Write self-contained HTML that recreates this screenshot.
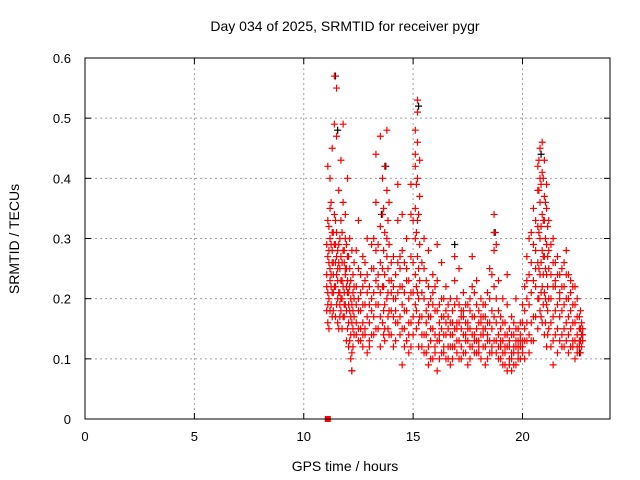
<!DOCTYPE html>
<html><head><meta charset="utf-8"><style>
body{margin:0;background:#fff}
svg{display:block;font-family:"Liberation Sans",sans-serif}
</style></head><body>
<svg id="chart" width="640" height="480" viewBox="0 0 640 480">
<rect width="640" height="480" fill="#fff"/>
<text x="345" y="31" font-size="14" text-anchor="middle">Day 034 of 2025, SRMTID for receiver pygr</text>
<text transform="translate(19,239) rotate(-90)" font-size="14" text-anchor="middle">SRMTID / TECUs</text>
<text x="345" y="471" font-size="14" text-anchor="middle">GPS time / hours</text>
<g id="grid"></g><g id="marks"></g><g id="axes"></g>
</svg>
<script>
const xTicks=[0,5,10,15,20];
const yTicks=[0,0.1,0.2,0.3,0.4,0.5,0.6];
const yTickLabels=["0","0.1","0.2","0.3","0.4","0.5","0.6"];
const hours=[11.1,11.2,11.3,11.4,11.5,11.6,11.7,11.8,11.9,12.0,12.1,12.2,12.3,12.5,12.7,12.9,13.1,13.3,13.5,13.6,13.7,13.8,13.9,14.1,14.3,14.5,14.7,14.9,15.1,15.2,15.3,15.5,15.7,15.9,16.1,16.3,16.5,16.7,16.9,17.1,17.3,17.5,17.7,17.9,18.1,18.3,18.5,18.7,18.9,19.1,19.3,19.5,19.7,19.9,20.1,20.3,20.5,20.7,20.8,20.9,21.0,21.1,21.2,21.4,21.6,21.8,22.0,22.2,22.4,22.6,22.7];
const values=[[.16,.21,.27,.33,.42,.19],[.23,.30,.40,.35,.18,.25],[.28,.45,.31,.21,.17,.26],[.57,.49,.22,.29,.34],[.55,.47,.24,.19,.31,.27],[.26,.38,.21,.15,.29],[.43,.33,.23,.18,.27,.20],[.49,.36,.28,.22,.17],[.34,.25,.19,.24,.30],[.40,.27,.21,.15,.23],[.30,.18,.13,.25,.22],[.08,.19,.11,.28,.16],[.26,.22,.14,.17,.20],[.33,.20,.13,.25,.18,.15],[.22,.16,.12,.19,.27,.14],[.30,.21,.17,.11,.24],[.25,.18,.14,.29,.20],[.44,.36,.28,.23,.19,.15],[.47,.32,.26,.21,.17,.12],[.40,.34,.25,.22,.16],[.42,.31,.24,.19,.15,.13],[.48,.38,.30,.27,.20],[.36,.29,.23,.18,.14],[.27,.22,.17,.12,.20],[.39,.33,.26,.21,.16],[.34,.28,.22,.15,.09,.19],[.30,.25,.18,.13,.23],[.39,.34,.27,.21,.16,.12],[.48,.44,.42,.35,.30,.24,.19],[.53,.51,.46,.40,.33,.27,.21],[.43,.37,.29,.23,.17],[.30,.25,.20,.14,.11],[.28,.22,.17,.12,.09,.19],[.24,.19,.15,.10,.21],[.29,.23,.18,.13,.08],[.26,.20,.15,.11,.17],[.22,.18,.14,.10,.16],[.20,.16,.12,.09,.14],[.27,.23,.19,.15,.12],[.25,.19,.16,.13,.10],[.21,.17,.14,.11,.18],[.19,.16,.13,.09,.15],[.27,.22,.17,.12,.14],[.23,.19,.15,.11,.13],[.20,.17,.14,.10,.16],[.19,.15,.12,.09,.17],[.25,.20,.16,.13,.11],[.34,.31,.28,.22,.17,.13],[.23,.18,.14,.10,.12],[.20,.16,.13,.09,.11],[.24,.19,.14,.08,.12],[.17,.14,.11,.08,.10],[.20,.15,.12,.09,.13],[.16,.13,.10,.12,.14],[.22,.18,.13,.10,.15],[.30,.24,.19,.14,.11],[.35,.29,.23,.17,.13],[.42,.38,.32,.26,.20,.15],[.45,.40,.36,.30,.24,.18],[.46,.41,.34,.28,.22,.16],[.43,.37,.33,.27,.21,.14],[.39,.35,.29,.24,.19,.12],[.33,.28,.25,.20,.15],[.30,.26,.22,.17,.13,.09],[.27,.24,.19,.15,.11],[.25,.22,.18,.14,.12],[.28,.24,.20,.16,.13],[.23,.21,.18,.15,.12],[.22,.19,.16,.13,.10],[.17,.15,.13,.12],[.16,.14,.12]];
const hours2=[11.05,11.15,11.25,11.35,11.45,11.55,11.65,11.75,11.85,11.95,12.05,12.15,12.25,12.4,12.6,12.8,13.0,13.2,13.4,13.65,13.85,14.0,14.2,14.4,14.6,14.8,15.0,15.15,15.25,15.4,15.6,15.8,16.0,16.2,16.4,16.6,16.8,17.0,17.2,17.4,17.6,17.8,18.0,18.2,18.4,18.6,18.8,19.0,19.2,19.4,19.6,19.8,20.0,20.2,20.4,20.6,20.75,20.85,20.95,21.05,21.15,21.3,21.5,21.7,21.9,22.1,22.3,22.5,22.65,22.75];
const values2=[[.18,.24,.29,.22],[.20,.26,.32,.15,.28],[.24,.19,.36,.29,.22],[.26,.31,.18,.24,.21],[.29,.22,.26,.17,.33],[.20,.28,.23,.16,.25],[.30,.21,.25,.19,.17],[.26,.23,.31,.20,.15],[.21,.28,.17,.26,.19],[.25,.18,.22,.29,.13],[.21,.16,.27,.12,.19],[.14,.23,.17,.20,.10],[.18,.24,.15,.21,.12],[.16,.22,.19,.14,.28],[.18,.24,.13,.21,.15],[.19,.15,.23,.14,.26],[.22,.16,.19,.13,.12],[.21,.17,.25,.14,.30],[.24,.19,.15,.29,.22],[.28,.22,.18,.35,.14],[.25,.21,.17,.33,.15],[.23,.18,.14,.26,.21],[.20,.16,.24,.13,.18],[.22,.17,.14,.27,.25],[.18,.15,.21,.12,.26],[.20,.16,.23,.14,.11],[.26,.21,.17,.33,.14],[.31,.22,.18,.39,.15],[.25,.20,.16,.12,.34],[.21,.17,.14,.26,.12],[.18,.14,.11,.23,.16],[.17,.13,.10,.20,.15],[.18,.14,.11,.22,.12],[.16,.13,.10,.19,.14],[.17,.14,.11,.20,.12],[.15,.12,.17,.19,.10],[.18,.14,.12,.16,.10],[.16,.13,.11,.20,.15],[.15,.12,.18,.10,.17],[.16,.13,.11,.19,.14],[.18,.15,.12,.20,.10],[.17,.14,.11,.21,.13],[.16,.13,.11,.18,.12],[.17,.14,.12,.19,.15],[.16,.13,.10,.21,.14],[.18,.15,.12,.24,.11],[.16,.13,.11,.20,.29],[.15,.12,.10,.17,.13],[.14,.11,.09,.16,.12],[.15,.12,.10,.13,.09],[.14,.11,.09,.12,.16],[.13,.10,.12,.15,.11],[.16,.13,.11,.19,.12],[.20,.16,.13,.27,.23],[.26,.21,.16,.13,.31],[.33,.28,.22,.17,.25],[.38,.31,.25,.20,.43],[.39,.32,.26,.21,.17],[.40,.33,.27,.19,.24],[.36,.30,.25,.20,.16],[.32,.27,.22,.18,.14],[.29,.24,.20,.16,.12],[.26,.22,.18,.14,.23],[.24,.20,.17,.13,.21],[.26,.22,.19,.15,.12],[.24,.20,.17,.14,.11],[.22,.19,.16,.13,.12],[.20,.17,.14,.12,.11],[.15,.13,.18,.11],[.14,.13,.15]];
const blackHours=[11.45,11.55,12.2,13.55,13.75,15.25,16.9,18.75,20.85,22.6];
const blackValues=[0.57,0.48,0.08,0.34,0.42,0.52,0.29,0.31,0.44,0.11];
const L=85,R=610,T=58,B=419,XMAX=24,YMAX=0.6;
const xs=v=>L+v/XMAX*(R-L);
const ys=v=>B-v/YMAX*(B-T);
const NS="http://www.w3.org/2000/svg";
function mk(tag,attrs,parent){const e=document.createElementNS(NS,tag);for(const k in attrs)e.setAttribute(k,attrs[k]);parent.appendChild(e);return e;}
const grid=document.getElementById('grid'),marks=document.getElementById('marks'),axes=document.getElementById('axes');
xTicks.forEach(t=>{
  if(t>0){const g=mk('line',{x1:xs(t),x2:xs(t),y1:T,y2:B,stroke:'#a0a0a0','stroke-dasharray':'2,3'},grid);
  
  }
  mk('line',{x1:xs(t),x2:xs(t),y1:B,y2:B-6,stroke:'#000'},axes);
  mk('line',{x1:xs(t),x2:xs(t),y1:T,y2:T+6,stroke:'#000'},axes);
  const l=mk('text',{x:xs(t),y:B+22,'font-size':13,'text-anchor':'middle'},axes);l.textContent=t;
  
  
});
yTicks.forEach((t,i)=>{
  if(t>0&&t<YMAX){const g=mk('line',{x1:L,x2:R,y1:ys(t),y2:ys(t),stroke:'#a0a0a0','stroke-dasharray':'2,3'},grid);
  
  }
  mk('line',{x1:L,x2:L+6,y1:ys(t),y2:ys(t),stroke:'#000'},axes);
  mk('line',{x1:R,x2:R-6,y1:ys(t),y2:ys(t),stroke:'#000'},axes);
  const l=mk('text',{x:L-14,y:ys(t)+5,'font-size':13,'text-anchor':'end'},axes);l.textContent=yTickLabels[i];
  
  
});
const fr=mk('rect',{x:L,y:T,width:R-L,height:B-T,fill:'none',stroke:'#000'},axes);


function plus(x,y,c){const d=`M${x-3.5},${y}h7M${x},${y-3.5}v7`;const p=mk('path',{d:d,stroke:c,'stroke-width':1.2,fill:'none'},marks);return p;}
blackHours.forEach((h,i)=>{const p=plus(xs(h),ys(blackValues[i]),'#000');
  
  });
hours.forEach((h,i)=>values[i].forEach(v=>{const p=plus(xs(h),ys(v),'#f00');
  
  }));
hours2.forEach((h,i)=>values2[i].forEach(v=>{const p=plus(xs(h),ys(v),'#f00');
  
  }));
const sq=mk('rect',{x:xs(11.1)-3,y:ys(0)-3,width:6,height:6,fill:'#f00'},marks);


</script>
</body></html>
